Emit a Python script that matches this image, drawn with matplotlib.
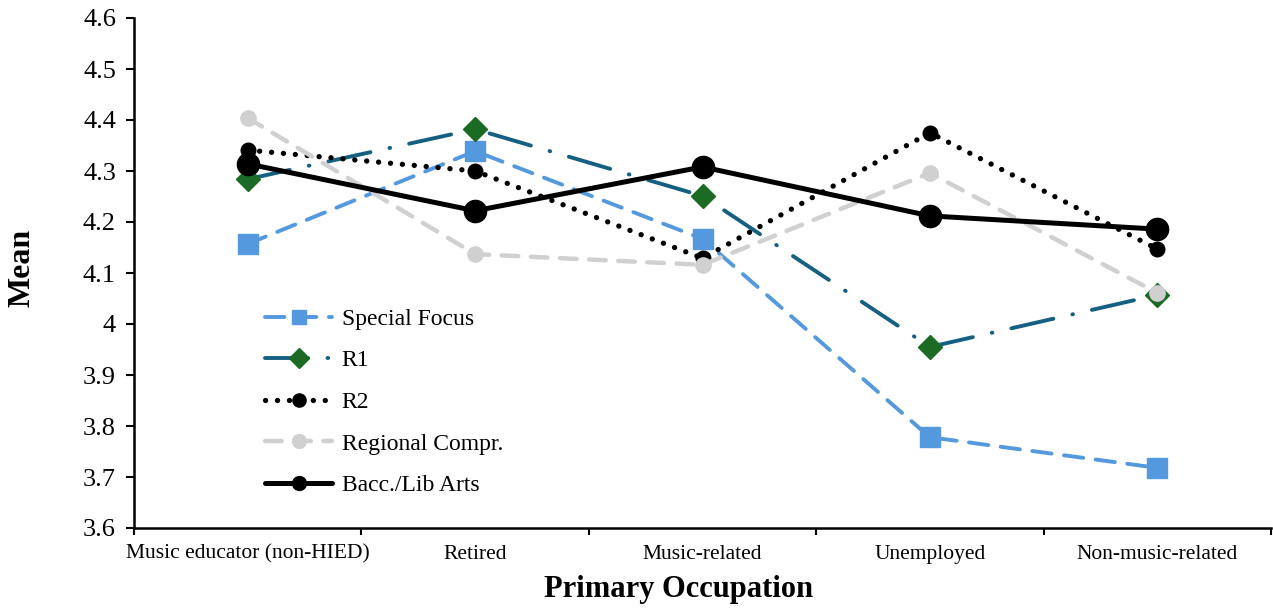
import matplotlib
matplotlib.use("Agg")
import matplotlib.pyplot as plt

plt.rcParams['font.family'] = ['Liberation Serif', 'DejaVu Serif']
plt.rcParams['lines.scale_dashes'] = False

categories = ["Music educator (non-HIED)", "Retired", "Music-related", "Unemployed", "Non-music-related"]
special_focus = [4.157, 4.339, 4.167, 3.778, 3.718]
r1 = [4.284, 4.382, 4.251, 3.955, 4.057]
r2 = [4.341, 4.300, 4.129, 4.375, 4.147]
regional = [4.404, 4.137, 4.116, 4.296, 4.061]
bacc = [4.314, 4.222, 4.308, 4.212, 4.186]
yticks = [3.6, 3.7, 3.8, 3.9, 4.0, 4.1, 4.2, 4.3, 4.4, 4.5, 4.6]
ytick_labels = ["3.6", "3.7", "3.8", "3.9", "4", "4.1", "4.2", "4.3", "4.4", "4.5", "4.6"]

fig = plt.figure(figsize=(12.73, 6.08), dpi=100)
ax = fig.add_axes([134/1273, 1-528/608, (1271-134)/1273, (528-18)/608])

x = list(range(len(categories)))

ax.plot(x, special_focus, color='#5499DD', lw=2.8, dashes=(14, 9), dash_capstyle='round',
        marker='s', ms=15, mec='#5499DD', mfc='#5499DD', label='Special Focus', zorder=3)
ax.plot(x, r1, color='#156082', lw=2.8, dashes=(31, 14, 0.5, 14), dash_capstyle='round',
        marker='D', ms=12.5, mec='#1C6B24', mfc='#1C6B24', label='R1', zorder=4)
ax.plot(x, r2, color='black', lw=3.8, dashes=(0.1, 8.5), dash_capstyle='round',
        marker='o', ms=10.5, mec='black', mfc='black', label='R2', zorder=5)
ax.plot(x, regional, color='#D0D0D0', lw=3.2, dashes=(12, 9), dash_capstyle='round',
        marker='o', ms=11, mec='#D0D0D0', mfc='#D0D0D0', label='Regional Compr.', zorder=6)
ax.plot(x, bacc, color='black', lw=3.6, solid_capstyle='round',
        marker='o', ms=16, mec='black', mfc='black', label='Bacc./Lib Arts', zorder=7)

ax.set_xlim(-0.5, len(categories) - 0.5)
ax.set_ylim(3.6, 4.6)
ax.set_yticks(yticks)
ax.set_yticklabels(ytick_labels, fontsize=19)
ax.set_xticks(x)
ax.set_xticklabels(categories, fontsize=15.5)
ax.set_xticks([i - 0.5 for i in range(len(categories) + 1)], minor=True)
ax.tick_params(axis='x', which='major', length=0, pad=12)
ax.tick_params(axis='x', which='minor', length=5, width=1.5, direction='out')
ax.tick_params(axis='y', which='major', length=6, width=1.5, direction='out', pad=7)

for side in ['top', 'right']:
    ax.spines[side].set_visible(False)
for side in ['left', 'bottom']:
    ax.spines[side].set_linewidth(1.8)

ax.set_ylabel('Mean', fontsize=23, fontweight='bold')
ax.yaxis.set_label_coords((22.5 - 134) / 1137, (528 - 267.5) / 510)
ax.yaxis.label.set_verticalalignment('center')
ax.set_xlabel('Primary Occupation', fontsize=22, fontweight='bold')
ax.xaxis.set_label_coords((679 - 134) / 1137, (528 - 590) / 510)
ax.xaxis.label.set_verticalalignment('center')

leg = ax.legend(loc='upper left', bbox_to_anchor=(0.0967, 0.4725), frameon=False, fontsize=17,
                handlelength=2.84, numpoints=1, labelspacing=0.85, handletextpad=0.4)
for h, s in zip(leg.legend_handles, [10, 10, 9.5, 10, 10]):
    h.set_markersize(s)

fig.savefig('out.png', dpi=100)
